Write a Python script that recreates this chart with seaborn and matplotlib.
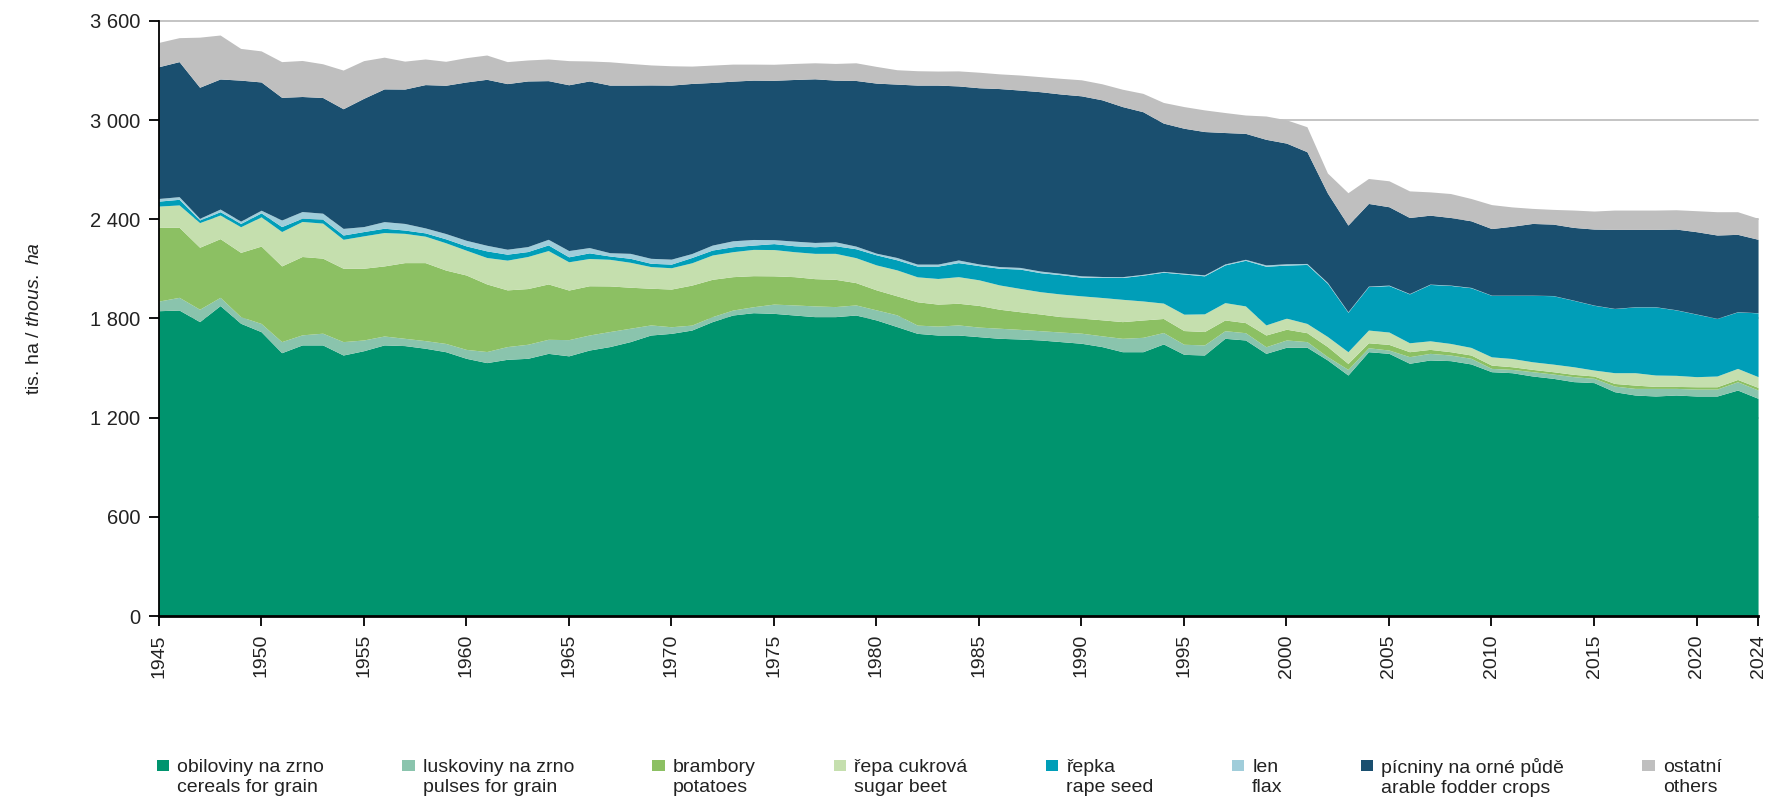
import numpy as np
import pandas as pd
import seaborn as sns
import matplotlib
matplotlib.use("Agg")
import matplotlib.pyplot as plt
from matplotlib.patches import Rectangle
from matplotlib.legend_handler import HandlerPatch

# years on the category axis (the chart has no 2023 point)
years = list(range(1945, 2023)) + [2024]

# thousand ha, rows = 1945-54, 1955-64, ... , 2015-24
cereals = [1847, 1851, 1781, 1878, 1771, 1720, 1593, 1640, 1640, 1579,
           1605, 1640, 1636, 1620, 1599, 1559, 1533, 1553, 1559, 1589,
           1574, 1609, 1630, 1660, 1700, 1710, 1730, 1781, 1821, 1835,
           1831, 1821, 1811, 1811, 1821, 1791, 1751, 1710, 1700, 1700,
           1690, 1680, 1676, 1670, 1660, 1650, 1630, 1599, 1599, 1646,
           1583, 1579, 1680, 1670, 1589, 1626, 1626, 1549, 1458, 1599,
           1589, 1529, 1549, 1545, 1525, 1478, 1472, 1452, 1438, 1418,
           1412, 1357, 1337, 1331, 1337, 1331, 1331, 1367, 1317]
pulses = [58, 77, 75, 50, 40, 50, 67, 61, 71, 81,
          65, 54, 44, 46, 50, 54, 67, 77, 85, 85,
          98, 91, 91, 81, 61, 40, 30, 30, 30, 36,
          56, 61, 65, 61, 61, 61, 71, 50, 54, 61,
          58, 61, 58, 56, 58, 61, 65, 81, 87, 69,
          61, 61, 46, 44, 40, 44, 34, 20, 34, 24,
          20, 40, 40, 34, 34, 20, 20, 26, 26, 30,
          26, 34, 40, 46, 40, 42, 42, 50, 50]
potatoes = [446, 424, 375, 355, 389, 468, 458, 474, 454, 444,
            434, 424, 458, 472, 444, 450, 409, 343, 337, 335,
            300, 298, 276, 248, 222, 228, 242, 226, 202, 188,
            171, 171, 165, 165, 135, 121, 115, 141, 133, 131,
            131, 115, 107, 101, 93, 91, 97, 101, 105, 85,
            83, 81, 65, 61, 71, 65, 54, 61, 36, 30,
            34, 30, 24, 20, 20, 20, 16, 14, 14, 14,
            14, 16, 20, 12, 12, 14, 14, 14, 16]
sugar_beet = [129, 135, 149, 143, 155, 177, 208, 212, 212, 175,
              196, 202, 177, 160, 165, 150, 160, 180, 194, 202,
              171, 165, 161, 151, 131, 129, 135, 147, 151, 159,
              159, 151, 153, 157, 151, 151, 157, 151, 155, 161,
              155, 147, 141, 135, 137, 135, 135, 135, 115, 93,
              99, 107, 105, 101, 61, 67, 56, 61, 71, 77,
              75, 54, 52, 50, 46, 50, 50, 46, 46, 46,
              36, 65, 75, 69, 67, 61, 65, 67, 65]
rape_seed = [30, 34, 16, 20, 20, 24, 30, 20, 24, 26,
             26, 26, 20, 20, 24, 26, 40, 36, 30, 34,
             30, 34, 20, 24, 20, 22, 32, 30, 30, 26,
             36, 36, 40, 46, 54, 61, 61, 65, 75, 85,
             86, 101, 117, 115, 117, 113, 121, 132, 156, 187,
             243, 230, 228, 276, 355, 321, 357, 322, 239, 263,
             281, 296, 341, 351, 361, 372, 382, 402, 414, 402,
             392, 388, 398, 412, 396, 378, 348, 342, 386]
flax = [16, 16, 10, 16, 14, 16, 40, 40, 36, 40,
        30, 40, 40, 30, 32, 34, 34, 30, 30, 34,
        38, 32, 20, 30, 30, 30, 24, 30, 36, 34,
        24, 28, 26, 24, 16, 10, 14, 12, 12, 16,
        10, 10, 10, 10, 8, 8, 6, 5, 5, 5,
        5, 6, 6, 6, 8, 8, 6, 5, 3, 3,
        3, 2, 2, 2, 2, 1, 1, 1, 1, 1,
        1, 1, 1, 1, 1, 1, 1, 1, 1]
fodder = [797, 817, 793, 787, 853, 776, 742, 696, 700, 724,
          776, 803, 813, 867, 897, 958, 1004, 1002, 1002, 960,
          1003, 1008, 1014, 1018, 1049, 1053, 1029, 984, 966, 964,
          964, 978, 990, 978, 1002, 1029, 1049, 1083, 1083, 1053,
          1066, 1077, 1073, 1085, 1085, 1089, 1069, 1029, 984, 897,
          877, 867, 795, 762, 760, 730, 676, 541, 524, 500,
          474, 460, 417, 409, 403, 403, 417, 434, 432, 440,
          460, 478, 468, 468, 488, 498, 504, 468, 444]
others = [147, 145, 303, 266, 192, 188, 216, 218, 204, 234,
          228, 192, 169, 155, 145, 147, 147, 133, 127, 131,
          146, 121, 141, 131, 121, 117, 105, 105, 103, 97,
          97, 97, 97, 101, 107, 101, 87, 87, 85, 91,
          94, 89, 91, 91, 95, 97, 97, 105, 111, 125,
          131, 131, 121, 111, 141, 141, 151, 121, 196, 151,
          157, 161, 141, 145, 135, 145, 117, 91, 89, 105,
          109, 117, 117, 117, 117, 127, 141, 137, 127]

labels = ["obiloviny na zrno\ncereals for grain",
          "luskoviny na zrno\npulses for grain",
          "brambory\npotatoes",
          "řepa cukrová\nsugar beet",
          "řepka\nrape seed",
          "len\nflax",
          "pícniny na orné půdě\narable fodder crops",
          "ostatní\nothers"]
colors = ["#00946E", "#8AC4AD", "#8CC063", "#C5DFAE",
          "#009EB8", "#A0CDDA", "#1A4F6F", "#BFBFBF"]

df = pd.DataFrame({"cereals": cereals, "pulses": pulses, "potatoes": potatoes,
                   "sugar_beet": sugar_beet, "rape_seed": rape_seed, "flax": flax,
                   "fodder": fodder, "others": others}, index=years)

sns.set_theme(style="white")
plt.rcParams["font.family"] = ["Liberation Sans", "DejaVu Sans"]
plt.rcParams["mathtext.fontset"] = "custom"
plt.rcParams["mathtext.rm"] = "Liberation Sans"
plt.rcParams["mathtext.it"] = "Liberation Sans:italic"

fig = plt.figure(figsize=(17.66, 7.97), dpi=100)
ax = fig.add_axes([0.0898, 0.2271, 0.9057, 0.7466])

pos = np.arange(len(df))
ax.stackplot(pos, df.T.values, colors=colors, labels=labels, linewidth=0)

ax.set_xlim(0, len(df) - 1)
ax.set_ylim(0, 3600)
yticks = np.arange(0, 3601, 600)
ax.set_yticks(yticks)
ax.set_yticklabels([f"{v:,}".replace(",", " ") for v in yticks])
tick_idx = [i for i, y in enumerate(years) if y % 5 == 0] + [len(years) - 1]
ax.set_xticks(tick_idx)
ax.set_xticklabels([str(years[i]) for i in tick_idx], rotation=90)

ax.set_axisbelow(True)
ax.yaxis.grid(True, color="#BFBFBF", linewidth=1.3)
ax.xaxis.grid(False)
for gl in ax.get_ygridlines():
    gl.set_clip_on(False)
sns.despine(ax=ax)
ax.spines["left"].set_color("black")
ax.spines["left"].set_linewidth(1.3)
ax.spines["bottom"].set_color("black")
ax.spines["bottom"].set_linewidth(2)
ax.tick_params(axis="y", left=True, length=7, width=1.3, color="black",
               pad=6, labelsize=14.5, labelcolor="#222222")
ax.tick_params(axis="x", bottom=True, length=7, width=1.3, color="black",
               pad=6, labelsize=14, labelcolor="#222222")

ax.set_ylabel("tis. ha / $\\mathit{thous.\\ ha}$", fontsize=14, color="#222222")
ax.yaxis.set_label_coords(-0.0725, 0.5)


def top_square(legend, orig_handle, xdescent, ydescent, width, height, fontsize):
    # square sits next to the first (Czech) line of the label
    mid = height / 2 - ydescent + 0.6 * fontsize
    return Rectangle((-xdescent, mid - 4), 9, 8)


# proxy squares for the legend, one per area
handles = [Rectangle((0, 0), 1, 1, facecolor=c, edgecolor="none") for c in colors]
leg = fig.legend(handles, labels, loc="center", ncol=8, mode="expand",
                 bbox_to_anchor=(0.0889, 0.024, 0.886, 0), frameon=False,
                 fontsize=14, handlelength=0.7, handleheight=0.7,
                 handletextpad=0.35, borderpad=0, borderaxespad=0,
                 handler_map={Rectangle: HandlerPatch(patch_func=top_square)})
for t in leg.get_texts():
    t.set_linespacing(1.25)
    t.set_color("#222222")

fig.savefig("out.png", dpi=100)
